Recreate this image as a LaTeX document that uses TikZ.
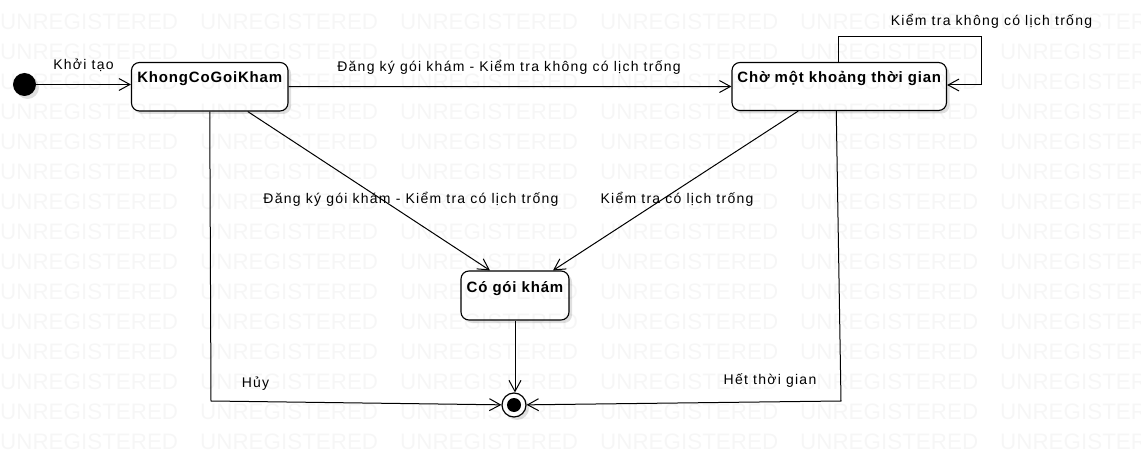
\documentclass[tikz,border=0pt]{standalone}
\usepackage{fontspec}
\setmainfont{Liberation Sans}
\newfontfamily\lblfont[LetterSpace=9]{Liberation Sans}
\newfontfamily\boxfont[LetterSpace=5.5]{Liberation Sans}
\newfontfamily\wmfont{Liberation Sans}
\usetikzlibrary{arrows.meta,shadows,calc}
\begin{document}
\begin{tikzpicture}[x=1pt,y=-1pt,
  shd/.style={drop shadow={shadow xshift=3pt,shadow yshift=-3pt,fill=black,opacity=0.12}},
  statebox/.style={draw,rounded corners=8pt,fill=white,line width=1.1pt,inner sep=0pt,shd},
  boxtxt/.style={font=\boxfont\bfseries\fontsize{15}{18}\selectfont,inner sep=0pt},
  lbl/.style={font=\lblfont\fontsize{14}{16}\selectfont,inner sep=0pt,anchor=base},
  arr/.style={-{Straight Barb[length=11pt,width=12pt]},line width=1pt},
  wm/.style={font=\wmfont\fontsize{22.4}{26}\selectfont,text=black,text opacity=0.035,inner sep=0pt,anchor=base west}]
\useasboundingbox (0,0) rectangle (1141,473);
\fill[white] (0,0) rectangle (1141,473);

% states
\node[circle,fill=black,minimum size=23pt,inner sep=0pt,shd] (i) at (24.5,84.5) {};
\node[statebox,minimum width=156.5pt,minimum height=48.5pt,
  label={[boxtxt,anchor=base,yshift=-21pt]north:KhongCoGoiKham}] (k) at (209.75,86.75) {};
\node[statebox,minimum width=214.5pt,minimum height=48pt,
  label={[boxtxt,anchor=base,yshift=-21pt]north:Chờ một khoảng thời gian}] (c) at (839.25,86.5) {};
\node[statebox,minimum width=108pt,minimum height=49pt,
  label={[boxtxt,anchor=base,yshift=-22pt]north:Có gói khám}] (g) at (515,295.5) {};
\node[circle,draw,fill=white,line width=1.2pt,minimum size=24pt,inner sep=0pt,shd,
  path picture={\fill[black] (path picture bounding box.center) circle (7pt);}] (f) at (514,405) {};

% connectors
\draw[arr] (i) -- (i -| k.west);
\draw[arr] (k.east) -- (c.west);
\draw[arr] ($(c.north)+(-1,0)$) |- (981,37) |- ($(c.east)+(0,-1.5)$);
\draw[arr] ($(k.south)+(38,0)$) -- ($(g.north)+(-25,0)$);
\draw[arr] ($(c.south)+(-41,0)$) -- ($(g.north)+(38,0)$);
\draw[arr] (k.south) -- (211,401) -- (f);
\draw[arr] (g.south) -- (g.south |- f.north);
\draw[arr] ($(c.south)+(-3,0)$) -- (841,401) -- (f);

% labels
\node[lbl] (l1) at (83.5,69.3) {Khởi tạo};
\node[lbl] (l2) at (509,72) {Đăng ký gói khám - Kiểm tra không có lịch trống};
\node[lbl] (l3) at (991.5,25.7) {Kiểm tra không có lịch trống};
\node[lbl] (l4) at (411,204) {Đăng ký gói khám - Kiểm tra có lịch trống};
\node[lbl] (l5) at (677,204) {Kiểm tra có lịch trống};
\node[lbl] (l6) at (255.5,387.5) {Hủy};
\node[lbl] (l7) at (770,384) {Hết thời gian};

% watermark
\begin{scope}
\clip (0,0) rectangle (1141,473);
\foreach \r in {0,...,14}{
  \foreach \q in {0,...,5}{
    \node[wm] at (\q*200,29.5+\r*30) {UNREGISTERED};
  }
}
\end{scope}
\end{tikzpicture}
\end{document}
